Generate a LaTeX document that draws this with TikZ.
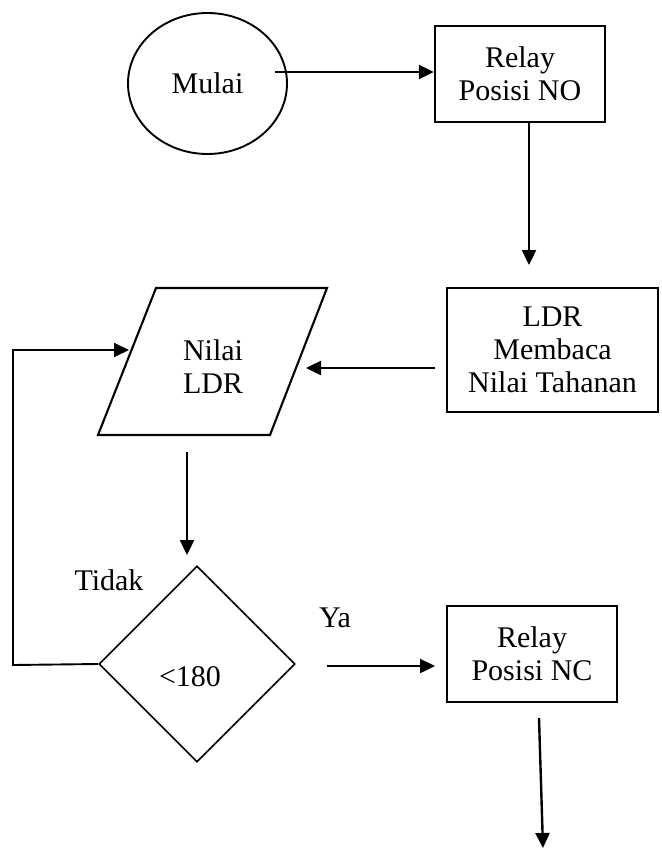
\documentclass[tikz,border=0pt]{standalone}
\usepackage{fontspec}
\setmainfont{Liberation Serif}
\usetikzlibrary{shapes.geometric,arrows.meta}
\begin{document}
\begin{tikzpicture}[x=1pt,y=-1pt,
  txt/.style={font=\fontsize{30}{33}\selectfont, align=center, inner sep=0pt},
  boxnode/.style={draw, line width=2.3pt, rectangle, inner sep=0pt, align=center, font=\fontsize{30}{33}\selectfont},
  conn/.style={line width=2.4pt, -{Triangle[length=15pt,width=14pt]}},
  outline/.style={line width=2.1pt, line join=miter}]
\useasboundingbox[fill=white] (0,0) rectangle (661,851);

% nodes
\node[draw, ellipse, line width=1.9pt, minimum width=159pt, minimum height=141pt, inner sep=0pt, font=\fontsize{30}{33}\selectfont] (mulai) at (207.5,83.5) {Mulai};
\node[boxnode, minimum width=170pt, minimum height=96pt] (relayno) at (520,74) {Relay\\Posisi NO};
\node[boxnode, minimum width=211pt, minimum height=124pt] (ldr) at (552.5,350) {LDR\\Membaca\\Nilai Tahanan};
\draw[outline] (156,288) coordinate (ptl) -- (327,288) coordinate (ptr) -- (270,435) coordinate (pbr) -- (98,435) coordinate (pbl) -- cycle;
\node[txt] (nilai) at (213,367) {Nilai\\LDR};
\node[draw, diamond, line width=1.6pt, minimum width=196pt, minimum height=196pt, inner sep=0pt] (cek) at (197,664) {};
\node[txt] (cektxt) at (190,677) {<180};
\node[txt] (tidak) at (109,580) {Tidak};
\node[txt] (ya) at (335,618) {Ya};
\node[boxnode, minimum width=170pt, minimum height=96pt] (relaync) at (532,654) {Relay\\Posisi NC};

% connector end points
\coordinate (a1s) at (275,72);
\coordinate (a2e) at (529,265);
\coordinate (a3s) at (435,368);
\coordinate (pr) at (306,368);
\coordinate (a4s) at (187,452);
\coordinate (a4e) at (187,555);
\coordinate (lpb) at (13,665);
\coordinate (lpt) at (13,350);
\coordinate (pl) at (129,350);
\coordinate (yas) at (327,666);
\coordinate (yae) at (435,666);
\coordinate (a5s) at (539,718);
\coordinate (a5e) at (543,848);

% connectors
\draw[conn] (a1s) -- (relayno.west |- a1s);
\draw[conn] (relayno.south -| a2e) -- (a2e);
\draw[conn] (a3s) -- (pr);
\draw[conn] (a4s) -- (a4e);
\draw[conn, line width=1.9pt, line join=miter] (cek.west) -- (lpb) -- (lpt) -- (pl);
\draw[conn] (yas) -- (yae);
\draw[conn] (a5s) -- (a5e);
\end{tikzpicture}
\end{document}
